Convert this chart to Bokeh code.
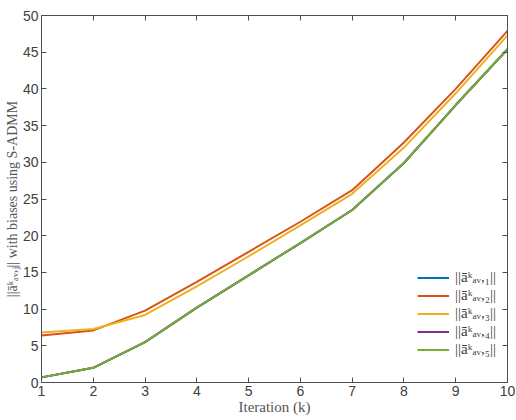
from bokeh.plotting import figure
from bokeh.models import LinearAxis, Range1d, FixedTicker, Legend, LegendItem
from bokeh.embed import file_html
from bokeh.resources import INLINE

iterations = [1, 2, 3, 4, 5, 6, 7, 8, 9, 10]
a1 = [0.7, 2.0, 5.5, 10.2, 14.6, 19.0, 23.5, 29.9, 37.8, 45.4]
a2 = [6.4, 7.1, 9.8, 13.7, 17.8, 21.9, 26.2, 32.7, 40.0, 47.9]
a3 = [6.8, 7.3, 9.2, 13.1, 17.2, 21.4, 25.7, 32.0, 39.4, 47.3]
a4 = [0.7, 2.0, 5.5, 10.2, 14.6, 19.0, 23.5, 29.9, 37.8, 45.4]
a5 = [0.7, 2.0, 5.5, 10.2, 14.6, 19.0, 23.5, 29.9, 37.8, 45.4]
series = [a1, a2, a3, a4, a5]
labels = ["||āᵏₐᵥ,₁||", "||āᵏₐᵥ,₂||", "||āᵏₐᵥ,₃||", "||āᵏₐᵥ,₄||", "||āᵏₐᵥ,₅||"]
colors = ["#0072BD", "#D95319", "#EDB120", "#7E2F8E", "#77AC30"]
x_ticks = list(range(1, 11))
y_ticks = list(range(0, 51, 5))

p = figure(width=516, height=420, output_backend="svg", toolbar_location=None,
           x_range=Range1d(1, 10), y_range=Range1d(0, 50),
           min_border_left=41, min_border_right=9, min_border_top=15, min_border_bottom=38)
p.outline_line_color = None
p.grid.visible = False

axcol = "#4d4d4d"
items = []
for s, lab, c in zip(series, labels, colors):
    r = p.line(iterations, s, line_color=c, line_width=2)
    items.append(LegendItem(label=lab, renderers=[r]))

def style(ax, show_labels=True):
    ax.axis_line_color = axcol
    ax.major_tick_line_color = axcol
    ax.major_tick_in = 5
    ax.major_tick_out = 0
    ax.minor_tick_line_color = None
    ax.major_label_text_font = "Liberation Sans"
    ax.major_label_text_font_size = "14px"
    ax.major_label_text_color = "#404040"
    ax.major_label_standoff = 3
    if not show_labels:
        ax.major_label_text_font_size = "0px"
        ax.major_label_text_alpha = 0

p.xaxis.ticker = FixedTicker(ticks=x_ticks)
p.yaxis.ticker = FixedTicker(ticks=y_ticks)
style(p.xaxis[0])
style(p.yaxis[0])
p.xaxis.axis_label = "Iteration (k)"
p.yaxis.axis_label = "||āᵏₐᵥ,ⱼ|| with biases using S-ADMM"
for ax in (p.xaxis[0], p.yaxis[0]):
    ax.axis_label_text_font = "Liberation Serif"
    ax.axis_label_text_font_style = "normal"
    ax.axis_label_text_font_size = "15px"
    ax.axis_label_text_color = "#555555"
    ax.axis_label_standoff = 0
p.yaxis.axis_label_text_font_size = "14px"

top = LinearAxis(ticker=FixedTicker(ticks=x_ticks))
style(top, False)
p.add_layout(top, "above")
right = LinearAxis(ticker=FixedTicker(ticks=y_ticks))
style(right, False)
p.add_layout(right, "right")

leg = Legend(items=items, location=(374, 22))
leg.label_text_font = "Liberation Serif"
leg.label_text_font_size = "15px"
leg.label_text_color = "#404040"
leg.border_line_alpha = 0
leg.background_fill_alpha = 0
leg.glyph_width = 32
leg.spacing = 1
leg.label_height = 17
leg.glyph_height = 17
leg.label_standoff = 6
leg.padding = 2
leg.margin = 0
p.add_layout(leg, "center")

open("out.html", "w").write(file_html(p, INLINE))
